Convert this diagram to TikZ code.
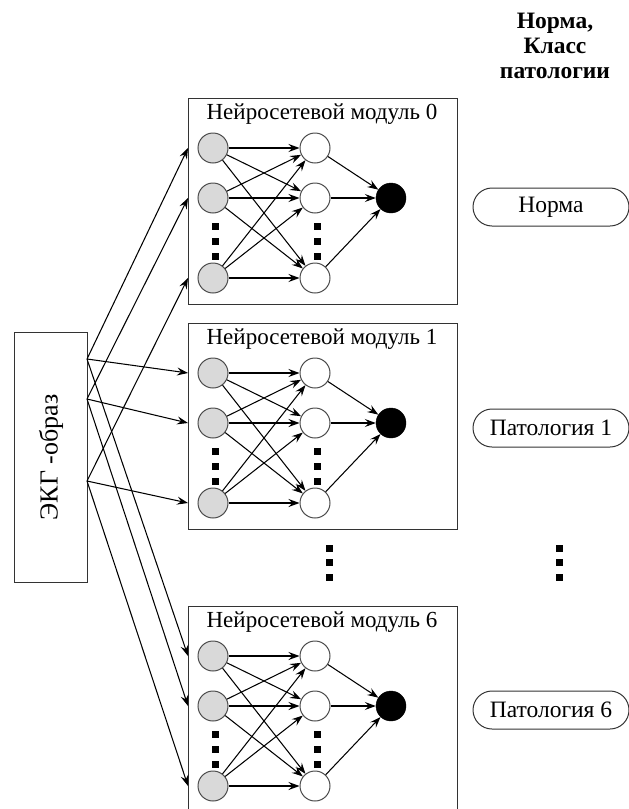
\documentclass[tikz,border=0pt]{standalone}
\usepackage{fontspec}
\setmainfont{Liberation Serif}
\usetikzlibrary{arrows.meta,shapes.misc}
\begin{document}
\begin{tikzpicture}[x=1pt,y=-1pt,
  arr/.style={-{Stealth[length=11pt,width=8pt,inset=4pt]}, line width=1.05pt},
  inn/.style={circle, draw=black!70, fill=black!15, line width=1pt, minimum size=30pt, inner sep=0pt},
  hid/.style={circle, draw=black!70, fill=white, line width=1pt, minimum size=30pt, inner sep=0pt},
  outn/.style={circle, draw=black, fill=black, minimum size=30pt, inner sep=0pt},
  modbox/.style={draw=black!80, line width=1pt, minimum width=269pt, minimum height=206pt, inner sep=0pt, anchor=north west},
  sq/.style={fill=black, minimum size=7pt, inner sep=0pt},
  pill/.style={rounded rectangle, draw=black!80, line width=1pt, minimum width=156pt, minimum height=38pt, inner sep=0pt, font=\fontsize{23.5}{26}\selectfont},
  title/.style={font=\fontsize{23}{26}\selectfont, anchor=base, inner sep=0pt},
  head/.style={font=\bfseries\fontsize{23.5}{26}\selectfont, anchor=base, inner sep=0pt}]
\useasboundingbox (0,0) rectangle (629,809);

% ECG box
\node[draw=black!80, line width=1pt, minimum width=73pt, minimum height=250pt, inner sep=0pt, anchor=north west] (ecg) at (14,332) {};
\node[rotate=90, font=\fontsize{26}{28}\selectfont] (ecglab) at (ecg.center) {ЭКГ -образ};
\coordinate (s1) at (87,359);
\coordinate (s2) at (87,399);
\coordinate (s3) at (87,481);

% modules
\foreach \m/\t in {0/98, 1/323, 6/606} {
  \node[modbox] (m\m box) at (188,\t) {};
  \node[title] (m\m title) at (322,\t+21) {Нейросетевой модуль \m};
  \node[inn] (m\m i1) at (213,\t+50) {};
  \node[inn] (m\m i2) at (213,\t+100) {};
  \node[inn] (m\m i3) at (213,\t+180) {};
  \node[hid] (m\m h1) at (315,\t+50) {};
  \node[hid] (m\m h2) at (315,\t+100) {};
  \node[hid] (m\m h3) at (315,\t+180) {};
  \node[outn] (m\m o) at (391,\t+100) {};
  \node[sq] (m\m da1) at (215,\t+128) {};
  \node[sq] (m\m da2) at (215,\t+143) {};
  \node[sq] (m\m da3) at (215,\t+158) {};
  \node[sq] (m\m db1) at (317,\t+128) {};
  \node[sq] (m\m db2) at (317,\t+143) {};
  \node[sq] (m\m db3) at (317,\t+158) {};
  \foreach \i in {1,2,3} {
    \foreach \j in {1,2,3} {
      \draw[arr] (m\m i\i) -- (m\m h\j);
    }
    \draw[arr] (m\m h\i) -- (m\m o);
    \draw[arr] (s\i) -- (m\m box.west |- m\m i\i);
  }
}

% ellipsis between modules
\node[sq] (ma1) at (329,548) {};
\node[sq] (ma2) at (329,562) {};
\node[sq] (ma3) at (329,577) {};
\node[sq] (mb1) at (559,548) {};
\node[sq] (mb2) at (559,562) {};
\node[sq] (mb3) at (559,577) {};

% header
\node[head] (hd1) at (555,28) {Норма,};
\node[head] (hd2) at (555,53) {Класс};
\node[head] (hd3) at (555,78) {патологии};

% outputs
\node[pill] (p0) at (551,207) {Норма};
\node[pill] (p1) at (551,428) {Патология 1};
\node[pill] (p6) at (551,710) {Патология 6};
\end{tikzpicture}
\end{document}
